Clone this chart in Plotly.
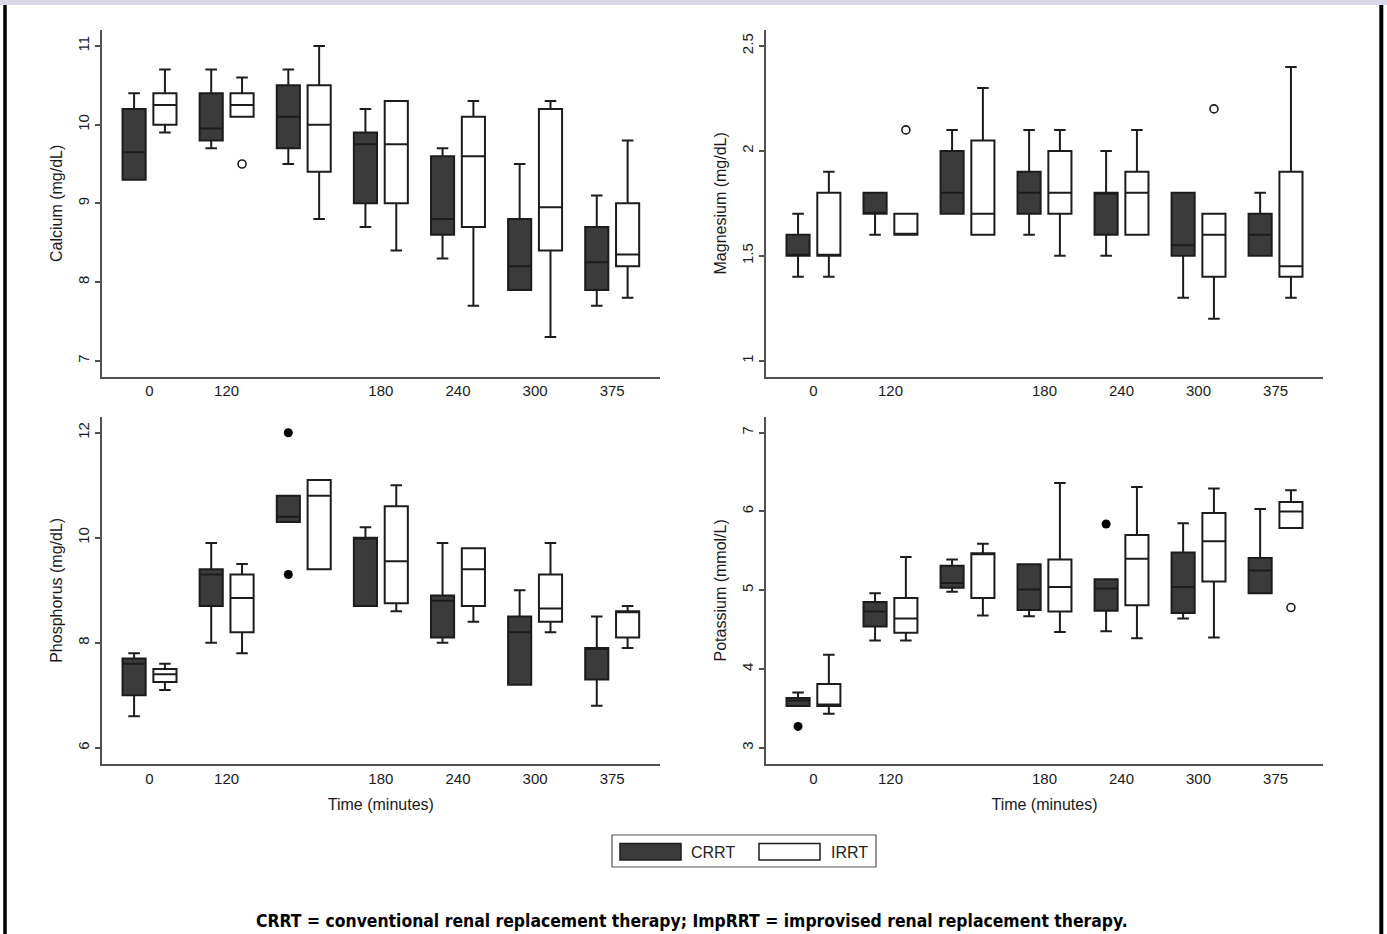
import plotly.graph_objects as go

# ---------------- data ----------------
time_labels = ["0", "120", "", "180", "240", "300", "375"]
series_names = ["CRRT", "IRRT"]

# Calcium (mg/dL)
ca_crrt_lo = [9.3, 9.7, 9.5, 8.7, 8.3, 7.9, 7.7]
ca_crrt_q1 = [9.3, 9.8, 9.7, 9.0, 8.6, 7.9, 7.9]
ca_crrt_med = [9.65, 9.95, 10.1, 9.75, 8.8, 8.2, 8.25]
ca_crrt_q3 = [10.2, 10.4, 10.5, 9.9, 9.6, 8.8, 8.7]
ca_crrt_hi = [10.4, 10.7, 10.7, 10.2, 9.7, 9.5, 9.1]
ca_irrt_lo = [9.9, 10.1, 8.8, 8.4, 7.7, 7.3, 7.8]
ca_irrt_q1 = [10.0, 10.1, 9.4, 9.0, 8.7, 8.4, 8.2]
ca_irrt_med = [10.25, 10.25, 10.0, 9.75, 9.6, 8.95, 8.35]
ca_irrt_q3 = [10.4, 10.4, 10.5, 10.3, 10.1, 10.2, 9.0]
ca_irrt_hi = [10.7, 10.6, 11.0, 10.3, 10.3, 10.3, 9.8]
ca_crrt_out_idx, ca_crrt_out_val = [], []
ca_irrt_out_idx, ca_irrt_out_val = [1], [9.5]

# Magnesium (mg/dL)
mg_crrt_lo = [1.4, 1.6, 1.7, 1.6, 1.5, 1.3, 1.5]
mg_crrt_q1 = [1.5, 1.7, 1.7, 1.7, 1.6, 1.5, 1.5]
mg_crrt_med = [1.5, 1.7, 1.8, 1.8, 1.8, 1.55, 1.6]
mg_crrt_q3 = [1.6, 1.8, 2.0, 1.9, 1.8, 1.8, 1.7]
mg_crrt_hi = [1.7, 1.8, 2.1, 2.1, 2.0, 1.8, 1.8]
mg_irrt_lo = [1.4, 1.6, 1.6, 1.5, 1.6, 1.2, 1.3]
mg_irrt_q1 = [1.5, 1.6, 1.6, 1.7, 1.6, 1.4, 1.4]
mg_irrt_med = [1.5, 1.6, 1.7, 1.8, 1.8, 1.6, 1.45]
mg_irrt_q3 = [1.8, 1.7, 2.05, 2.0, 1.9, 1.7, 1.9]
mg_irrt_hi = [1.9, 1.7, 2.3, 2.1, 2.1, 1.7, 2.4]
mg_crrt_out_idx, mg_crrt_out_val = [], []
mg_irrt_out_idx, mg_irrt_out_val = [1, 5], [2.1, 2.2]

# Phosphorus (mg/dL)
ph_crrt_lo = [6.6, 8.0, 10.3, 8.7, 8.0, 7.2, 6.8]
ph_crrt_q1 = [7.0, 8.7, 10.3, 8.7, 8.1, 7.2, 7.3]
ph_crrt_med = [7.6, 9.3, 10.4, 10.0, 8.8, 8.2, 7.9]
ph_crrt_q3 = [7.7, 9.4, 10.8, 10.0, 8.9, 8.5, 7.9]
ph_crrt_hi = [7.8, 9.9, 10.8, 10.2, 9.9, 9.0, 8.5]
ph_irrt_lo = [7.1, 7.8, 9.4, 8.6, 8.4, 8.2, 7.9]
ph_irrt_q1 = [7.25, 8.2, 9.4, 8.75, 8.7, 8.4, 8.1]
ph_irrt_med = [7.4, 8.85, 10.8, 9.55, 9.4, 8.65, 8.6]
ph_irrt_q3 = [7.5, 9.3, 11.1, 10.6, 9.8, 9.3, 8.6]
ph_irrt_hi = [7.6, 9.5, 11.1, 11.0, 9.8, 9.9, 8.7]
ph_crrt_out_idx, ph_crrt_out_val = [2, 2], [12.0, 9.3]
ph_irrt_out_idx, ph_irrt_out_val = [], []

# Potassium (mmol/L)
k_crrt_lo = [3.53, 4.36, 4.98, 4.67, 4.48, 4.64, 4.96]
k_crrt_q1 = [3.53, 4.54, 5.03, 4.75, 4.74, 4.71, 4.96]
k_crrt_med = [3.6, 4.73, 5.09, 5.01, 5.02, 5.04, 5.25]
k_crrt_q3 = [3.63, 4.85, 5.31, 5.33, 5.14, 5.48, 5.41]
k_crrt_hi = [3.70, 4.96, 5.39, 5.33, 5.14, 5.85, 6.03]
k_irrt_lo = [3.43, 4.36, 4.68, 4.47, 4.39, 4.40, 5.79]
k_irrt_q1 = [3.53, 4.46, 4.90, 4.73, 4.81, 5.11, 5.79]
k_irrt_med = [3.55, 4.64, 5.46, 5.04, 5.40, 5.62, 6.0]
k_irrt_q3 = [3.81, 4.90, 5.47, 5.39, 5.70, 5.98, 6.12]
k_irrt_hi = [4.18, 5.42, 5.59, 6.36, 6.31, 6.29, 6.27]
k_crrt_out_idx, k_crrt_out_val = [0, 4], [3.27, 5.84]
k_irrt_out_idx, k_irrt_out_val = [6], [4.78]

y_titles = ["Calcium (mg/dL)", "Magnesium (mg/dL)", "Phosphorus (mg/dL)", "Potassium (mmol/L)"]
y_tickvals = [[7, 8, 9, 10, 11], [1, 1.5, 2, 2.5], [6, 8, 10, 12], [3, 4, 5, 6, 7]]
y_ranges = [[6.797, 11.203], [0.924, 2.576], [5.69, 12.305], [2.793, 7.203]]
x_title = "Time (minutes)"
caption = "CRRT = conventional renal replacement therapy; ImpRRT = improvised renal replacement therapy."

# ---------------- style ----------------
W, H = 1387, 934
OFFSET = 0.2
BOXW = 0.3
DARK = "#3b3b3b"
LINE = "#1c1c1c"
AXC = "#505050"
FONT = "Liberation Sans, Arial, Helvetica, sans-serif"
CAPFONT = "Liberation Sans Narrow, Arial Narrow, DejaVu Sans Condensed, sans-serif"

panels = [
    [(ca_crrt_lo, ca_crrt_q1, ca_crrt_med, ca_crrt_q3, ca_crrt_hi, ca_crrt_out_idx, ca_crrt_out_val),
     (ca_irrt_lo, ca_irrt_q1, ca_irrt_med, ca_irrt_q3, ca_irrt_hi, ca_irrt_out_idx, ca_irrt_out_val)],
    [(mg_crrt_lo, mg_crrt_q1, mg_crrt_med, mg_crrt_q3, mg_crrt_hi, mg_crrt_out_idx, mg_crrt_out_val),
     (mg_irrt_lo, mg_irrt_q1, mg_irrt_med, mg_irrt_q3, mg_irrt_hi, mg_irrt_out_idx, mg_irrt_out_val)],
    [(ph_crrt_lo, ph_crrt_q1, ph_crrt_med, ph_crrt_q3, ph_crrt_hi, ph_crrt_out_idx, ph_crrt_out_val),
     (ph_irrt_lo, ph_irrt_q1, ph_irrt_med, ph_irrt_q3, ph_irrt_hi, ph_irrt_out_idx, ph_irrt_out_val)],
    [(k_crrt_lo, k_crrt_q1, k_crrt_med, k_crrt_q3, k_crrt_hi, k_crrt_out_idx, k_crrt_out_val),
     (k_irrt_lo, k_irrt_q1, k_irrt_med, k_irrt_q3, k_irrt_hi, k_irrt_out_idx, k_irrt_out_val)],
]

# domains in pixels
x_dom_px = [(101.7, 660.0), (765.7, 1323.3), (101.7, 660.0), (765.7, 1323.3)]
y_dom_px = [(30.0, 376.7), (30.0, 376.7), (416.7, 764.0), (416.7, 764.0)]

positions = list(range(len(time_labels)))
tickvals_x = [p for p, t in zip(positions, time_labels) if t != ""]
ticktext_x = [t for t in time_labels if t != ""]

fig = go.Figure()
layout = dict(
    width=W, height=H,
    margin=dict(l=0, r=0, t=0, b=0),
    paper_bgcolor="white", plot_bgcolor="white",
    showlegend=False, boxmode="overlay",
    font=dict(family=FONT, size=15, color="#222"),
)

for pi, panel in enumerate(panels):
    ax = "" if pi == 0 else str(pi + 1)
    for si, (lo, q1, med, q3, hi, oidx, oval) in enumerate(panel):
        sign = -1 if si == 0 else 1
        xs = [p + sign * OFFSET for p in positions]
        fill = DARK if si == 0 else "white"
        fig.add_trace(go.Box(
            x=xs, q1=q1, median=med, q3=q3, lowerfence=lo, upperfence=hi,
            width=BOXW, whiskerwidth=0.5, fillcolor=fill,
            line=dict(color=LINE, width=2), boxpoints=False,
            name=series_names[si], xaxis="x" + ax, yaxis="y" + ax,
            hoverinfo="skip",
        ))
        if oidx:
            ox = [positions[i] + sign * OFFSET for i in oidx]
            if si == 0:
                mk = dict(symbol="circle", size=9, color="black", line=dict(width=0))
            else:
                mk = dict(symbol="circle-open", size=8, color=LINE, line=dict(width=1.6))
            fig.add_trace(go.Scatter(
                x=ox, y=oval, mode="markers", marker=mk,
                xaxis="x" + ax, yaxis="y" + ax, hoverinfo="skip",
            ))
    x0, x1 = x_dom_px[pi]
    y0, y1 = y_dom_px[pi]
    layout["xaxis" + ax] = dict(
        domain=[x0 / W, x1 / W], anchor="y" + ax,
        range=[-0.62, 6.62], tickmode="array", tickvals=tickvals_x, ticktext=ticktext_x,
        showline=True, linecolor=AXC, linewidth=1.5, ticks="",
        showgrid=False, zeroline=False, tickfont=dict(size=15, color="#1a1a1a"),
        title=dict(text=x_title if pi >= 2 else "", font=dict(size=16, color="#1a1a1a"), standoff=13),
        automargin=False,
    )
    layout["yaxis" + ax] = dict(
        domain=[1 - y1 / H, 1 - y0 / H], anchor="x" + ax,
        range=y_ranges[pi], tickmode="array", tickvals=y_tickvals[pi],
        showline=True, linecolor=AXC, linewidth=1.5, ticks="outside", ticklen=5,
        tickcolor=AXC, tickwidth=1.5, tickangle=-90,
        showgrid=False, zeroline=False, tickfont=dict(size=15, color="#1a1a1a"),
        title=dict(text=y_titles[pi], font=dict(size=16, color="#1a1a1a"), standoff=8),
        automargin=False,
    )

# frame decoration and custom legend (paper coordinates)
shapes = [
    dict(type="rect", xref="paper", yref="paper", x0=0, x1=1, y0=1 - 5 / H, y1=1,
         fillcolor="#d9d9e9", line=dict(width=0), layer="below"),
    dict(type="line", xref="paper", yref="paper", x0=5 / W, x1=5 / W, y0=0, y1=1 - 5 / H,
         line=dict(color="black", width=3.5)),
    dict(type="line", xref="paper", yref="paper", x0=1381.3 / W, x1=1381.3 / W, y0=0, y1=1 - 5 / H,
         line=dict(color="black", width=4)),
    dict(type="rect", xref="paper", yref="paper", x0=612 / W, x1=876 / W, y0=1 - 867 / H, y1=1 - 835 / H,
         fillcolor="white", line=dict(color="#555", width=1.2)),
    dict(type="rect", xref="paper", yref="paper", x0=620 / W, x1=681 / W, y0=1 - 860 / H, y1=1 - 843.5 / H,
         fillcolor=DARK, line=dict(color=LINE, width=1.5)),
    dict(type="rect", xref="paper", yref="paper", x0=759 / W, x1=820 / W, y0=1 - 860 / H, y1=1 - 843.5 / H,
         fillcolor="white", line=dict(color=LINE, width=1.5)),
]
annotations = [
    dict(text=series_names[0], xref="paper", yref="paper", x=689 / W, y=1 - 852 / H,
         xanchor="left", yanchor="middle", showarrow=False, font=dict(size=16, color="#222")),
    dict(text=series_names[1], xref="paper", yref="paper", x=829 / W, y=1 - 852 / H,
         xanchor="left", yanchor="middle", showarrow=False, font=dict(size=16, color="#222")),
    dict(text="<b>" + caption + "</b>", xref="paper", yref="paper", x=692 / W, y=1 - 921 / H,
         xanchor="center", yanchor="middle", showarrow=False,
         font=dict(size=17.4, color="black", family=CAPFONT)),
]
layout["shapes"] = shapes
layout["annotations"] = annotations

fig.update_layout(**layout)
fig.write_html(
    "out.html",
    config={"displayModeBar": False},
    post_script="document.body.style.margin='0';document.body.style.overflow='hidden';",
)
